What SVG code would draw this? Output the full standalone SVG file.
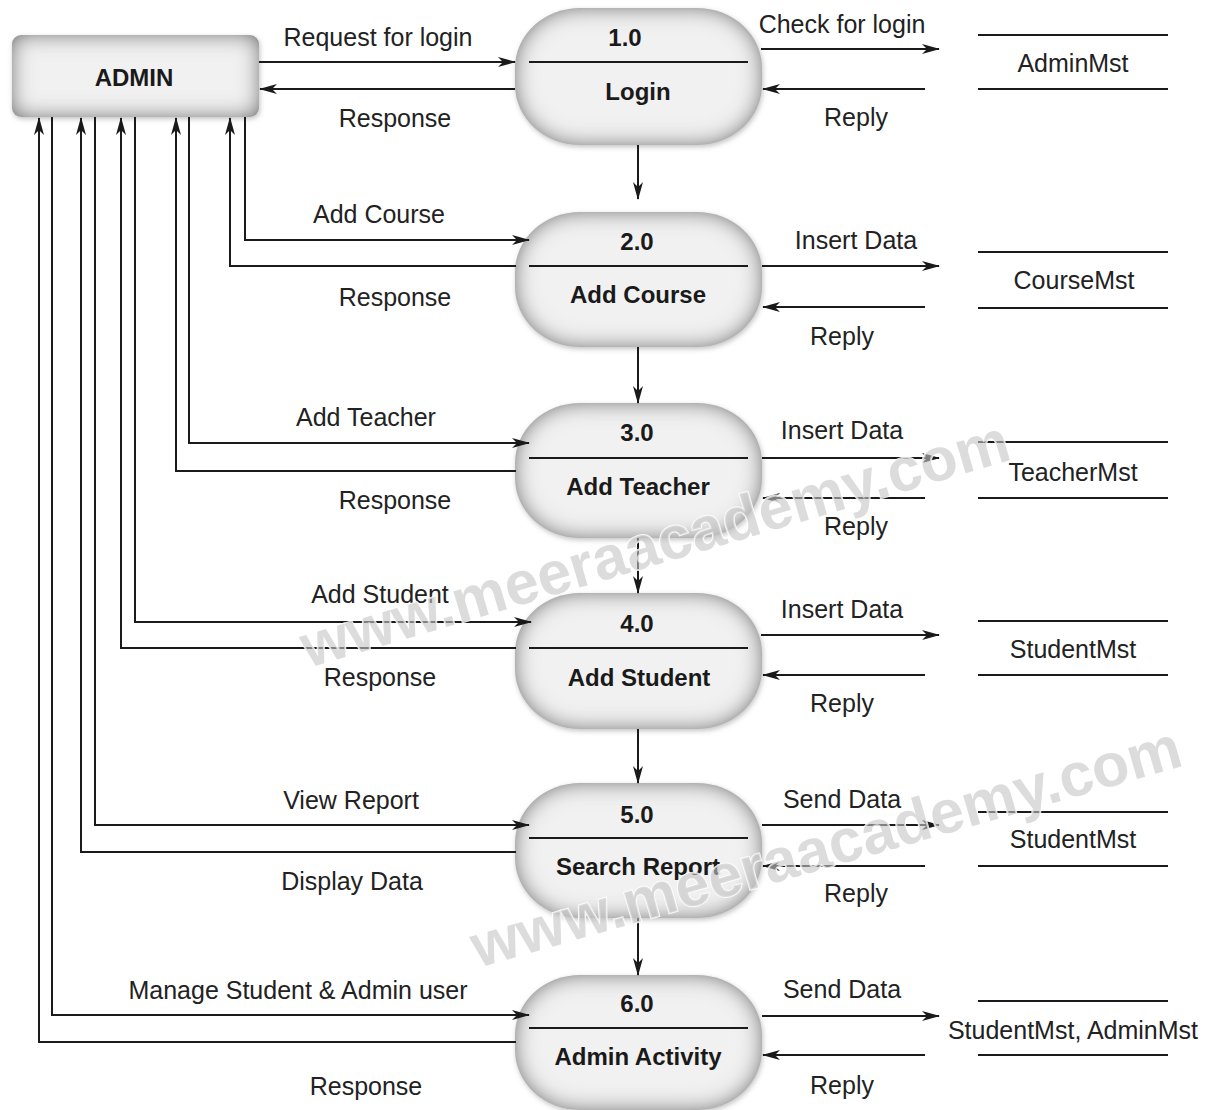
<svg xmlns="http://www.w3.org/2000/svg" width="1211" height="1110" viewBox="0 0 1211 1110">
<defs>
  <filter id="shade" x="-10%" y="-12%" width="120%" height="124%">
    <feGaussianBlur in="SourceAlpha" stdDeviation="11" result="b"/>
    <feComposite in="SourceAlpha" in2="b" operator="out" result="edge"/>
    <feFlood flood-color="#2e2e2e" result="c"/>
    <feComposite in="c" in2="edge" operator="in" result="sh"/>
    <feGaussianBlur in="SourceAlpha" stdDeviation="2.5" result="ob"/>
    <feOffset in="ob" dx="1" dy="2" result="oo"/>
    <feFlood flood-color="#888" flood-opacity="0.5" result="oc"/>
    <feComposite in="oc" in2="oo" operator="in" result="outer"/>
    <feMerge><feMergeNode in="outer"/><feMergeNode in="SourceGraphic"/><feMergeNode in="sh"/></feMerge>
  </filter>
  <marker id="ah" markerUnits="userSpaceOnUse" markerWidth="18" markerHeight="11" refX="17" refY="5.5" orient="auto">
    <path d="M0,0.5 L18,5.5 L0,10.5 L5,5.5 Z" fill="#1a1a1a"/>
  </marker>
</defs>
<style>
  .proc { fill: #f1f1f1; filter: url(#shade); }
  .div { stroke: #1a1a1a; stroke-width: 2; }
  .num { font-family: "Liberation Sans", Arial, sans-serif; font-weight: bold; font-size: 24px; fill: #1a1a1a; text-anchor: middle; }
  .lbl { font-family: "Liberation Sans", Arial, sans-serif; font-size: 25px; fill: #222; text-anchor: middle; }
  .st { stroke: #1a1a1a; stroke-width: 2; }
  .c { fill: none; stroke: #1a1a1a; stroke-width: 2; marker-end: url(#ah); }
  .wm { font-family: "Liberation Sans", Arial, sans-serif; font-weight: bold; font-size: 61px; fill: #c4c4c4; fill-opacity: 0.6; stroke: #ffffff; stroke-width: 2; stroke-opacity: 0.85; paint-order: stroke; }
</style>
<rect width="1211" height="1110" fill="#ffffff"/>

<g id="admin">
  <rect x="12" y="35" width="247" height="82" rx="9" class="proc"/>
  <text x="134" y="86" class="num">ADMIN</text>
</g>

<g id="p1">
  <rect x="515" y="8" width="247" height="137" rx="65" ry="60" class="proc"/>
  <line x1="529" y1="62" x2="748" y2="62" class="div"/>
  <text x="625" y="46" class="num">1.0</text>
  <text x="638" y="100" class="num">Login</text>
</g>
<g id="p2">
  <rect x="515" y="212" width="247" height="135" rx="65" ry="60" class="proc"/>
  <line x1="529" y1="266" x2="748" y2="266" class="div"/>
  <text x="637" y="250" class="num">2.0</text>
  <text x="638" y="303" class="num">Add Course</text>
</g>
<g id="p3">
  <rect x="515" y="403" width="247" height="135" rx="65" ry="60" class="proc"/>
  <line x1="529" y1="458" x2="748" y2="458" class="div"/>
  <text x="637" y="441" class="num">3.0</text>
  <text x="638" y="495" class="num">Add Teacher</text>
</g>
<g id="p4">
  <rect x="515" y="593" width="247" height="136" rx="65" ry="60" class="proc"/>
  <line x1="529" y1="648" x2="748" y2="648" class="div"/>
  <text x="637" y="632" class="num">4.0</text>
  <text x="639" y="686" class="num">Add Student</text>
</g>
<g id="p5">
  <rect x="515" y="783" width="247" height="135" rx="65" ry="60" class="proc"/>
  <line x1="529" y1="838" x2="748" y2="838" class="div"/>
  <text x="637" y="823" class="num">5.0</text>
  <text x="638" y="875" class="num">Search Report</text>
</g>
<g id="p6">
  <rect x="515" y="975" width="247" height="135" rx="65" ry="60" class="proc"/>
  <line x1="529" y1="1028" x2="748" y2="1028" class="div"/>
  <text x="637" y="1012" class="num">6.0</text>
  <text x="638" y="1065" class="num">Admin Activity</text>
</g>

<g id="ds1">
  <line x1="978" y1="35" x2="1168" y2="35" class="st"/>
  <line x1="978" y1="89" x2="1168" y2="89" class="st"/>
  <text x="1073" y="72" class="lbl">AdminMst</text>
</g>
<g id="ds2">
  <line x1="978" y1="252" x2="1168" y2="252" class="st"/>
  <line x1="978" y1="308" x2="1168" y2="308" class="st"/>
  <text x="1074" y="289" class="lbl">CourseMst</text>
</g>
<g id="ds3">
  <line x1="978" y1="442" x2="1168" y2="442" class="st"/>
  <line x1="978" y1="498" x2="1168" y2="498" class="st"/>
  <text x="1073" y="481" class="lbl">TeacherMst</text>
</g>
<g id="ds4">
  <line x1="978" y1="621" x2="1168" y2="621" class="st"/>
  <line x1="978" y1="675" x2="1168" y2="675" class="st"/>
  <text x="1073" y="658" class="lbl">StudentMst</text>
</g>
<g id="ds5">
  <line x1="978" y1="812" x2="1168" y2="812" class="st"/>
  <line x1="978" y1="866" x2="1168" y2="866" class="st"/>
  <text x="1073" y="848" class="lbl">StudentMst</text>
</g>
<g id="ds6">
  <line x1="978" y1="1001" x2="1168" y2="1001" class="st"/>
  <line x1="978" y1="1055" x2="1168" y2="1055" class="st"/>
  <text x="1073" y="1039" class="lbl">StudentMst, AdminMst</text>
</g>

<g id="connectors">
  <path class="c" d="M259,62 H515"/>
  <path class="c" d="M515,89 H260"/>
  <path class="c" d="M245,117 V240 H529"/>
  <path class="c" d="M516,266 H230 V118"/>
  <path class="c" d="M189,117 V443 H529"/>
  <path class="c" d="M516,471 H176 V118"/>
  <path class="c" d="M135,117 V622 H531"/>
  <path class="c" d="M516,648 H121 V118"/>
  <path class="c" d="M95,117 V825 H529"/>
  <path class="c" d="M516,852 H81 V118"/>
  <path class="c" d="M52,117 V1015 H529"/>
  <path class="c" d="M516,1042 H39 V118"/>

  <path class="c" d="M761,49 H939"/>
  <path class="c" d="M925,89 H763"/>
  <path class="c" d="M762,266 H939"/>
  <path class="c" d="M925,307 H763"/>
  <path class="c" d="M762,458 H939"/>
  <path class="c" d="M925,498 H763"/>
  <path class="c" d="M761,635 H939"/>
  <path class="c" d="M925,675 H763"/>
  <path class="c" d="M762,825 H939"/>
  <path class="c" d="M925,866 H763"/>
  <path class="c" d="M762,1016 H939"/>
  <path class="c" d="M925,1055 H763"/>

  <path class="c" d="M638,145 V199"/>
  <path class="c" d="M638,347 V403"/>
  <path class="c" d="M638,538 V593"/>
  <path class="c" d="M638,729 V783"/>
  <path class="c" d="M638,918 V975"/>
</g>

<g id="labels">
  <text x="378" y="46" class="lbl">Request for login</text>
  <text x="395" y="127" class="lbl">Response</text>
  <text x="379" y="223" class="lbl">Add Course</text>
  <text x="395" y="306" class="lbl">Response</text>
  <text x="366" y="426" class="lbl">Add Teacher</text>
  <text x="395" y="509" class="lbl">Response</text>
  <text x="380" y="603" class="lbl">Add Student</text>
  <text x="380" y="686" class="lbl">Response</text>
  <text x="351" y="809" class="lbl">View Report</text>
  <text x="352" y="890" class="lbl">Display Data</text>
  <text x="298" y="999" class="lbl">Manage Student &amp; Admin user</text>
  <text x="366" y="1095" class="lbl">Response</text>

  <text x="842" y="33" class="lbl">Check for login</text>
  <text x="856" y="126" class="lbl">Reply</text>
  <text x="856" y="249" class="lbl">Insert Data</text>
  <text x="842" y="345" class="lbl">Reply</text>
  <text x="842" y="439" class="lbl">Insert Data</text>
  <text x="856" y="535" class="lbl">Reply</text>
  <text x="842" y="618" class="lbl">Insert Data</text>
  <text x="842" y="712" class="lbl">Reply</text>
  <text x="842" y="808" class="lbl">Send Data</text>
  <text x="856" y="902" class="lbl">Reply</text>
  <text x="842" y="998" class="lbl">Send Data</text>
  <text x="842" y="1094" class="lbl">Reply</text>
</g>

<g id="watermark">
  <text class="wm" transform="translate(308,668) rotate(-16.5)">www.meeraacademy.com</text>
  <text class="wm" transform="translate(478,968) rotate(-16)">www.meeraacademy.com</text>
</g>
</svg>
